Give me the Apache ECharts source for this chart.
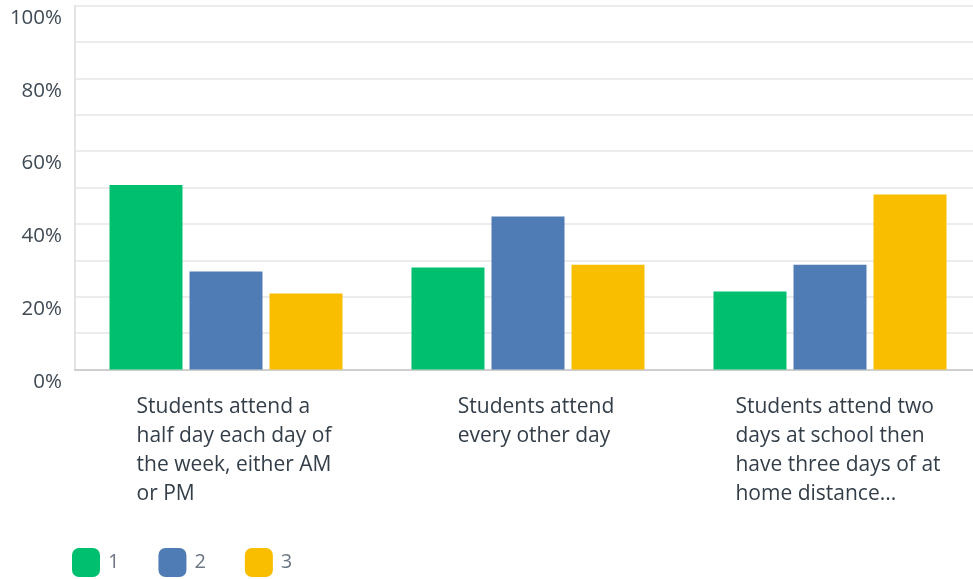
<!DOCTYPE html>
<html>
<head>
<meta charset="utf-8">
<script src="https://cdn.jsdelivr.net/npm/echarts@6/dist/echarts.min.js"></script>
<style>html,body{margin:0;padding:0;background:#fff}#c{width:973px;height:579px}</style>
</head>
<body>
<div id="c"></div>
<script>
const categories = [
  'Students attend a\nhalf day each day of\nthe week, either AM\nor PM',
  'Students attend\nevery other day',
  'Students attend two\ndays at school then\nhave three days of at\nhome distance...'
];
const seriesNames = ['1', '2', '3'];
const values1 = [50.7, 28.0, 21.4];
const values2 = [26.9, 42.0, 28.8];
const values3 = [20.9, 28.8, 48.1];
const yTicks = [0, 20, 40, 60, 80, 100];
const colors = ['#00BF6F', '#507CB6', '#F9BE00'];

const FONT = '"Open Sans", sans-serif';
const chart = echarts.init(document.getElementById('c'), null, {renderer: 'canvas'});
const allValues = [values1, values2, values3];
chart.setOption({
  animation: false,
  color: colors,
  grid: {left: 75, width: 906, top: 5.5, height: 364, containLabel: false, outerBoundsMode: 'none'},
  legend: {
    left: 72, top: 548,
    padding: 0,
    icon: 'roundRect',
    itemWidth: 28, itemHeight: 29,
    itemGap: 39,
    data: seriesNames,
    textStyle: {fontFamily: FONT, fontSize: 20, color: '#6b7785', padding: [0, 0, 0, 3]}
  },
  xAxis: {
    type: 'category',
    data: categories,
    axisTick: {show: false},
    axisLine: {show: true, lineStyle: {color: '#cfcfcf', width: 2}},
    axisLabel: {
      interval: 0,
      margin: 23,
      align: 'center',
      padding: [0, 0, 0, 16],
      formatter: v => '{t|' + v + '}',
      rich: {t: {align: 'left', fontFamily: FONT, fontSize: 21, lineHeight: 29, color: '#333e48'}}
    }
  },
  yAxis: {
    type: 'value',
    min: 0, max: 100, interval: 10,
    axisLine: {show: true, lineStyle: {color: '#e3e3e3', width: 2}},
    axisTick: {show: false},
    splitLine: {show: true, lineStyle: {color: '#ececec', width: 2}},
    axisLabel: {
      margin: 13,
      verticalAlign: 'top',
      padding: [2, 0, 0, 0],
      fontFamily: FONT, fontSize: 20.5, color: '#3f4a55',
      formatter: v => (yTicks.indexOf(v) >= 0 ? v + '%' : '')
    }
  },
  series: seriesNames.map((n, i) => ({
    name: n,
    type: 'bar',
    data: allValues[i],
    barWidth: 73,
    barGap: '9.6%',
    itemStyle: {color: colors[i]}
  }))
});
</script>
</body>
</html>
